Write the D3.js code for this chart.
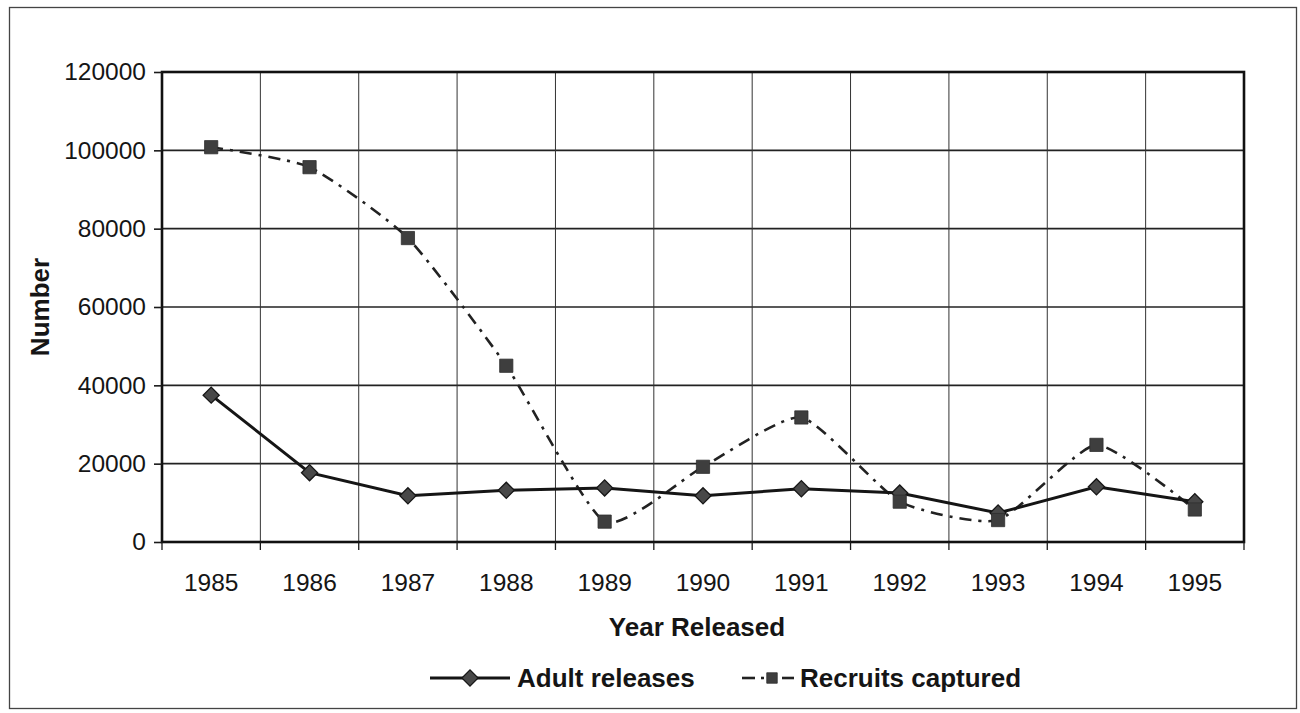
<!DOCTYPE html>
<html>
<head>
<meta charset="utf-8">
<script src="https://cdn.jsdelivr.net/npm/d3@7"></script>
<style>
  html, body { margin: 0; padding: 0; background: #fff; }
  svg { display: block; }
  text { font-family: "Liberation Sans", Arial, sans-serif; fill: #151515; }
</style>
</head>
<body>
<svg id="chart" width="1300" height="713"></svg>
<script>
// Data
const years = ["1985","1986","1987","1988","1989","1990","1991","1992","1993","1994","1995"];
const adultReleases = [37500, 17700, 11800, 13200, 13800, 11800, 13600, 12500, 7400, 14100, 10300];
const recruitsCaptured = [100800, 95700, 77600, 45000, 5200, 19200, 31800, 10300, 5600, 24800, 8300];
const yTicks = [0, 20000, 40000, 60000, 80000, 100000, 120000];

const svg = d3.select("#chart");

// Outer frame
svg.append("rect")
  .attr("x", 9.5).attr("y", 7.5)
  .attr("width", 1287).attr("height", 701)
  .attr("fill", "none").attr("stroke", "#444").attr("stroke-width", 1.3);

const plot = { left: 162, right: 1244, top: 72, bottom: 542 };

const x = d3.scaleBand().domain(years).range([plot.left, plot.right]).padding(0);
const y = d3.scaleLinear().domain([0, 120000]).range([plot.bottom, plot.top]);

const g = svg.append("g");

// Horizontal gridlines
g.selectAll("line.hgrid").data(yTicks).join("line")
  .attr("class", "hgrid")
  .attr("x1", plot.left).attr("x2", plot.right)
  .attr("y1", d => y(d)).attr("y2", d => y(d))
  .attr("stroke", "#222").attr("stroke-width", 1.6);

// Vertical gridlines at category boundaries
const bounds = years.map(d => x(d)).concat([x(years[years.length - 1]) + x.bandwidth()]);
g.selectAll("line.vgrid").data(bounds).join("line")
  .attr("class", "vgrid")
  .attr("x1", d => d).attr("x2", d => d)
  .attr("y1", plot.top).attr("y2", plot.bottom)
  .attr("stroke", "#333").attr("stroke-width", 1);

// Plot border
g.append("rect")
  .attr("x", plot.left).attr("y", plot.top)
  .attr("width", plot.right - plot.left).attr("height", plot.bottom - plot.top)
  .attr("fill", "none").attr("stroke", "#111").attr("stroke-width", 2.6);

// Y axis
const yAxis = d3.axisLeft(y).tickValues(yTicks).tickSize(8).tickPadding(8).tickFormat(d3.format("d"));
const ya = svg.append("g").attr("transform", `translate(${plot.left},0)`).call(yAxis);
ya.select(".domain").remove();
ya.selectAll("line").attr("stroke", "#1a1a1a").attr("stroke-width", 1.6);
ya.selectAll("text").attr("font-size", 24.5).attr("fill", "#151515")
  .style("font-family", "'Liberation Sans', Arial, sans-serif");

// X axis: ticks at boundaries, labels at centres
const xa = svg.append("g").attr("transform", `translate(0,${plot.bottom})`);
xa.selectAll("line").data(bounds).join("line")
  .attr("x1", d => d).attr("x2", d => d)
  .attr("y1", 0).attr("y2", 8)
  .attr("stroke", "#1a1a1a").attr("stroke-width", 1.3);
xa.selectAll("text").data(years).join("text")
  .attr("x", d => x(d) + x.bandwidth() / 2)
  .attr("y", 49)
  .attr("text-anchor", "middle")
  .attr("font-size", 24.5)
  .text(d => d);

// Axis titles
svg.append("text")
  .attr("x", 697).attr("y", 636)
  .attr("text-anchor", "middle")
  .attr("font-size", 26).attr("font-weight", "bold")
  .text("Year Released");

svg.append("text")
  .attr("transform", "translate(49,307) rotate(-90)")
  .attr("text-anchor", "middle")
  .attr("font-size", 26).attr("font-weight", "bold")
  .text("Number");

const cx = d => x(d) + x.bandwidth() / 2;

const squareSym = d3.symbol().type(d3.symbolSquare).size(175);
const diamondSym = d3.symbol().type(d3.symbolSquare).size(130);

// Recruits captured: smoothed dash-dot line with square markers
const recruitsData = years.map((d, i) => [cx(d), y(recruitsCaptured[i])]);
svg.append("path")
  .attr("d", d3.line().curve(d3.curveCardinal.tension(0.45))(recruitsData))
  .attr("fill", "none").attr("stroke", "#222").attr("stroke-width", 2.6)
  .attr("stroke-dasharray", "12 7 3 7");

// Adult releases: solid line with diamond markers
const adultData = years.map((d, i) => [cx(d), y(adultReleases[i])]);
svg.append("path")
  .attr("d", d3.line()(adultData))
  .attr("fill", "none").attr("stroke", "#151515").attr("stroke-width", 3);

svg.append("g").selectAll("path").data(adultData).join("path")
  .attr("transform", d => `translate(${d[0]},${d[1]}) rotate(45)`)
  .attr("d", diamondSym)
  .attr("fill", "#484848").attr("stroke", "#161616").attr("stroke-width", 1.3);

svg.append("g").selectAll("path").data(recruitsData).join("path")
  .attr("transform", d => `translate(${d[0]},${d[1]})`)
  .attr("d", squareSym)
  .attr("fill", "#3e3e3e").attr("stroke", "#2e2e2e").attr("stroke-width", 0.8);

// Legend
const legY = 678;
const leg = svg.append("g");
leg.append("line").attr("x1", 430).attr("x2", 510).attr("y1", legY).attr("y2", legY)
  .attr("stroke", "#151515").attr("stroke-width", 3);
leg.append("path").attr("transform", `translate(470,${legY}) rotate(45)`)
  .attr("d", diamondSym)
  .attr("fill", "#484848").attr("stroke", "#161616").attr("stroke-width", 1.3);
leg.append("text").attr("x", 517).attr("y", legY + 9)
  .attr("font-size", 26).attr("font-weight", "bold").text("Adult releases");

// dash, dot, marker, dash
const recLeg = [[742, 755], [761, 764], [782, 794]];
leg.selectAll("line.rl").data(recLeg).join("line")
  .attr("class", "rl")
  .attr("x1", d => d[0]).attr("x2", d => d[1])
  .attr("y1", legY).attr("y2", legY)
  .attr("stroke", "#222").attr("stroke-width", 2.6);
leg.append("path").attr("transform", `translate(772,${legY})`)
  .attr("d", d3.symbol().type(d3.symbolSquare).size(110))
  .attr("fill", "#3e3e3e").attr("stroke", "#2e2e2e").attr("stroke-width", 0.8);
leg.append("text").attr("x", 800).attr("y", legY + 9)
  .attr("font-size", 26).attr("font-weight", "bold").text("Recruits captured");
</script>
</body>
</html>
